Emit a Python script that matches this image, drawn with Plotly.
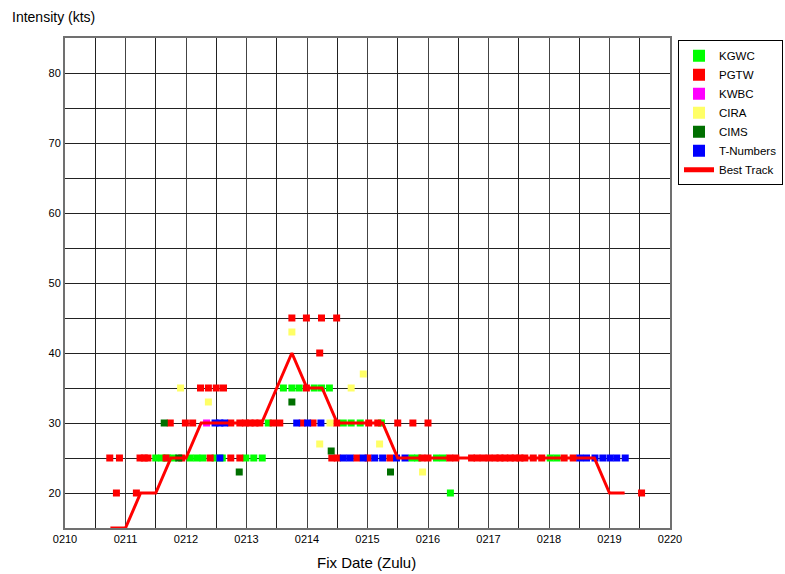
import plotly.graph_objects as go

# Fix times in days of month (February), e.g. 11.25 = 0211 06Z
kgwc_day = [11.50, 11.60, 11.69, 11.79, 12.07, 12.18, 12.28, 12.48, 12.60, 12.99, 13.12, 13.26,
            13.36, 13.61, 13.75, 13.87, 14.12, 14.24, 14.37, 14.60, 14.73, 14.88, 15.23,
            15.73, 15.83, 16.14, 16.25, 16.37, 18.02, 18.13]
kgwc_kts = [25, 25, 25, 25, 25, 25, 25, 25, 25, 25, 25, 25,
            30, 35, 35, 35, 35, 35, 35, 30, 30, 30, 30,
            25, 25, 25, 25, 20, 25, 25]

pgtw_day = [10.85, 11.18, 19.53,
            10.74, 10.90, 11.24, 11.31, 11.37, 11.67, 11.93, 12.40, 12.74, 12.89,
            14.41, 14.50, 14.82, 15.01, 15.37, 15.90, 16.00, 16.36, 16.46,
            16.72, 16.81, 16.91, 17.01, 17.11, 17.19, 17.27, 17.36, 17.44, 17.52, 17.60,
            17.74, 17.88, 18.25, 18.40,
            11.74, 11.99, 12.11, 12.74, 12.89, 12.98, 13.06, 13.14, 13.22, 13.44, 13.55,
            13.92, 14.10, 14.49, 15.02, 15.17, 15.50, 15.75, 16.00,
            12.24, 12.37, 12.50, 12.62, 13.99,
            14.21,
            13.75, 13.99, 14.24, 14.49]
pgtw_kts = [20, 20, 20,
            25, 25, 25, 25, 25, 25, 25, 25, 25, 25,
            25, 25, 25, 25, 25, 25, 25, 25, 25,
            25, 25, 25, 25, 25, 25, 25, 25, 25, 25, 25,
            25, 25, 25, 25,
            30, 30, 30, 30, 30, 30, 30, 30, 30, 30, 30,
            30, 30, 30, 30, 30, 30, 30, 30,
            35, 35, 35, 35, 35,
            40,
            45, 45, 45, 45]

kwbc_day = [12.34]
kwbc_kts = [30]

cira_day = [11.91, 12.37, 13.75, 14.21, 14.38, 14.73, 14.93, 15.20, 15.91]
cira_kts = [35, 33, 43, 27, 30, 35, 37, 27, 23]

cims_day = [11.64, 11.88, 12.88, 13.75, 14.40, 15.38]
cims_kts = [30, 25, 23, 33, 26, 23]

tnum_day = [12.48, 12.56, 12.64, 12.56, 13.83, 14.01, 14.23,
            14.60, 14.71, 14.93, 15.12, 15.25, 15.48, 15.62,
            18.51, 18.62, 18.76, 18.89, 19.01, 19.12, 19.26]
tnum_kts = [30, 30, 30, 25, 30, 30, 30,
            25, 25, 25, 25, 25, 25, 25,
            25, 25, 25, 25, 25, 25, 25]

best_day = [10.75, 11.00, 11.25, 11.50, 11.75, 12.00, 12.25, 12.50, 12.75, 13.00, 13.25,
            13.50, 13.75, 14.00, 14.25, 14.50, 14.75, 15.00, 15.25, 15.50, 15.75,
            16.00, 16.25, 16.50, 16.75, 17.00, 17.25, 17.50, 17.75, 18.00, 18.25,
            18.50, 18.75, 19.00, 19.25]
best_kts = [15, 15, 20, 20, 25, 25, 30, 30, 30, 30, 30,
            35, 40, 35, 35, 30, 30, 30, 30, 25, 25,
            25, 25, 25, 25, 25, 25, 25, 25, 25, 25,
            25, 25, 20, 20]

x_tick_vals = [10, 11, 12, 13, 14, 15, 16, 17, 18, 19, 20]
x_tick_text = ["0210", "0211", "0212", "0213", "0214", "0215", "0216", "0217", "0218", "0219", "0220"]
y_tick_vals = [20, 30, 40, 50, 60, 70, 80]

series = [
    ("KGWC", kgwc_day, kgwc_kts, "#00ff00"),
    ("PGTW", pgtw_day, pgtw_kts, "#ff0000"),
    ("KWBC", kwbc_day, kwbc_kts, "#ff00ff"),
    ("CIRA", cira_day, cira_kts, "#ffff66"),
    ("CIMS", cims_day, cims_kts, "#006f00"),
    ("T-Numbers", tnum_day, tnum_kts, "#0000ff"),
]

fig = go.Figure()
for name, xs, ys, col in series:
    fig.add_trace(go.Scatter(x=xs, y=ys, mode="markers", name=name,
                             marker=dict(symbol="square", size=7, color=col, line=dict(width=0))))
fig.add_trace(go.Scatter(x=best_day, y=best_kts, mode="lines", name="Best Track",
                         line=dict(color="#ff0000", width=3)))

font_family = "Liberation Sans, Arial, sans-serif"
fig.update_layout(
    width=785, height=574,
    margin=dict(l=65, r=115, t=38, b=46, autoexpand=False),
    paper_bgcolor="white", plot_bgcolor="white",
    font=dict(family=font_family, color="black", size=11),
    showlegend=True,
    legend=dict(xref="container", yref="container", x=0.8637, y=0.93,
                xanchor="left", yanchor="top",
                bordercolor="black", borderwidth=1, bgcolor="white",
                font=dict(size=11.5, family=font_family), itemsizing="constant",
                tracegroupgap=0, itemwidth=30),
    xaxis=dict(range=[10, 20], tickvals=x_tick_vals, ticktext=x_tick_text,
               showgrid=True, gridcolor="#444444", gridwidth=1,
               minor=dict(dtick=0.5, showgrid=True, gridcolor="#222222", gridwidth=1),
               showline=True, mirror=True, linecolor="#707070", linewidth=2,
               zeroline=False, ticks="", tickfont=dict(size=11)),
    yaxis=dict(range=[15, 85], tickvals=y_tick_vals,
               showgrid=True, gridcolor="#222222", gridwidth=1,
               minor=dict(dtick=5, tick0=15, showgrid=True, gridcolor="#222222", gridwidth=1),
               showline=True, mirror=True, linecolor="#707070", linewidth=2,
               zeroline=False, ticks="", tickfont=dict(size=11)),
    annotations=[
        dict(text="Intensity (kts)", xref="paper", yref="paper", x=-0.0909, y=1.043,
             xanchor="left", yanchor="middle", showarrow=False, font=dict(size=14)),
        dict(text="Fix Date (Zulu)", xref="paper", yref="paper", x=0.499, y=-0.0714,
             xanchor="center", yanchor="middle", showarrow=False, font=dict(size=15)),
    ],
)

fig.write_html("out.html", config={"displayModeBar": False},
               post_script="document.body.style.margin='0';document.body.style.overflow='hidden';")
